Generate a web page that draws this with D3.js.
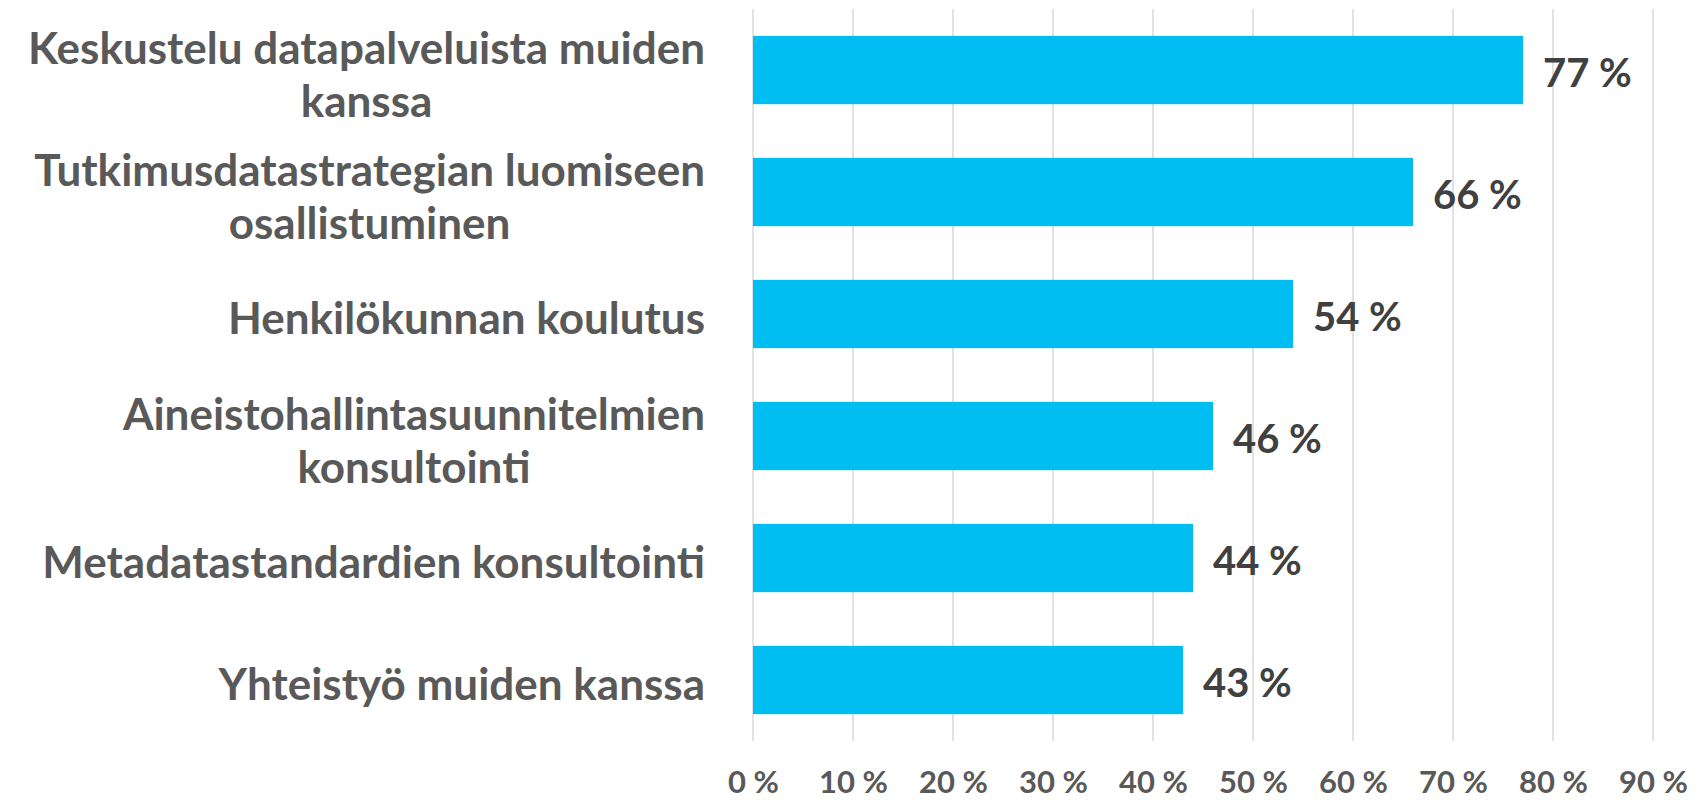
<!DOCTYPE html>
<html>
<head>
<meta charset="utf-8">
<script src="https://cdn.jsdelivr.net/npm/d3@7"></script>
<style>
  body { margin: 0; background: #fff; }
  text { font-family: Lato, "Open Sans", sans-serif; font-weight: 700; }
</style>
</head>
<body>
<div id="chart-area"></div>
<script>
// categories, top to bottom, split into lines like the original
var categories = [
    ["Keskustelu datapalveluista muiden", "kanssa"],
    ["Tutkimusdatastrategian luomiseen", "osallistuminen"],
    ["Henkilökunnan koulutus"],
    ["Aineistohallintasuunnitelmien", "konsultointi"],
    ["Metadatastandardien konsultointi"],
    ["Yhteistyö muiden kanssa"]
];
var values = [77, 66, 54, 46, 44, 43];
var ticks = [0, 10, 20, 30, 40, 50, 60, 70, 80, 90];

var data = categories.map((c, i) => { return {lines: c, key: c.join(" "), value: values[i]}; });

var margin = {left: 753, right: 52, top: 9, bottom: 59};
var width = 1705 - margin.left - margin.right;
var height = 800 - margin.top - margin.bottom;

var svg = d3.select("#chart-area")
  .append("svg")
    .attr("width", 1705)
    .attr("height", 800);

var g = svg.append("g")
    .attr("transform", "translate(" + margin.left + ", " + margin.top + ")");

var x = d3.scaleLinear()
    .domain([0, 90])
    .range([0, width]);

var y = d3.scaleBand()
    .domain(data.map((d) => d.key))
    .range([0, height])
    .paddingInner(0.44)
    .paddingOuter(0.22);

// vertical gridlines
g.selectAll("line.grid").data(ticks)
  .enter().append("line")
    .attr("class", "grid")
    .attr("x1", (d) => x(d))
    .attr("x2", (d) => x(d))
    .attr("y1", 0)
    .attr("y2", height)
    .attr("stroke", "#d9d9d9")
    .attr("stroke-width", 1.5);

// bottom axis (labels only)
var xAxis = d3.axisBottom(x)
    .tickValues(ticks)
    .tickSize(0)
    .tickFormat((d) => d + " %");
g.append("g")
    .attr("class", "bottom axis")
    .attr("transform", "translate(0, " + height + ")")
    .call(xAxis)
    .call((a) => a.select(".domain").remove())
    .selectAll("text")
    .attr("y", 52)
    .attr("dy", 0)
    .attr("fill", "#595959")
    .attr("font-size", "31px")
    .attr("font-family", "Lato, sans-serif")
    .attr("font-weight", 700);

// bars
g.selectAll("rect").data(data)
  .enter().append("rect")
    .attr("x", x(0))
    .attr("y", (d) => y(d.key))
    .attr("width", (d) => x(d.value) - x(0))
    .attr("height", y.bandwidth())
    .attr("fill", "#00bef2");

// value labels
g.selectAll("text.value").data(data)
  .enter().append("text")
    .attr("class", "value")
    .attr("x", (d) => x(d.value) + 20)
    .attr("y", (d) => y(d.key) + y.bandwidth() / 2 + 17)
    .attr("fill", "#404040")
    .attr("font-size", "40px")
    .text((d) => d.value + " %");

// category labels: block right aligned, lines centred within the block
var lineH = 53;
var labels = g.selectAll("text.cat").data(data)
  .enter().append("text")
    .attr("class", "cat")
    .attr("fill", "#595959")
    .attr("font-size", "44px")
    .attr("text-anchor", "middle");

labels.each(function(d) {
    var t = d3.select(this);
    var cy = y(d.key) + y.bandwidth() / 2;
    var n = d.lines.length;
    d.lines.forEach((ln, i) => {
        t.append("tspan")
            .attr("y", cy + 20 + (i - (n - 1) / 2) * lineH)
            .text(ln);
    });
    var maxW = 0;
    t.selectAll("tspan").each(function() {
        maxW = Math.max(maxW, this.getComputedTextLength());
    });
    t.selectAll("tspan").attr("x", -48 - maxW / 2);
});
</script>
</body>
</html>
